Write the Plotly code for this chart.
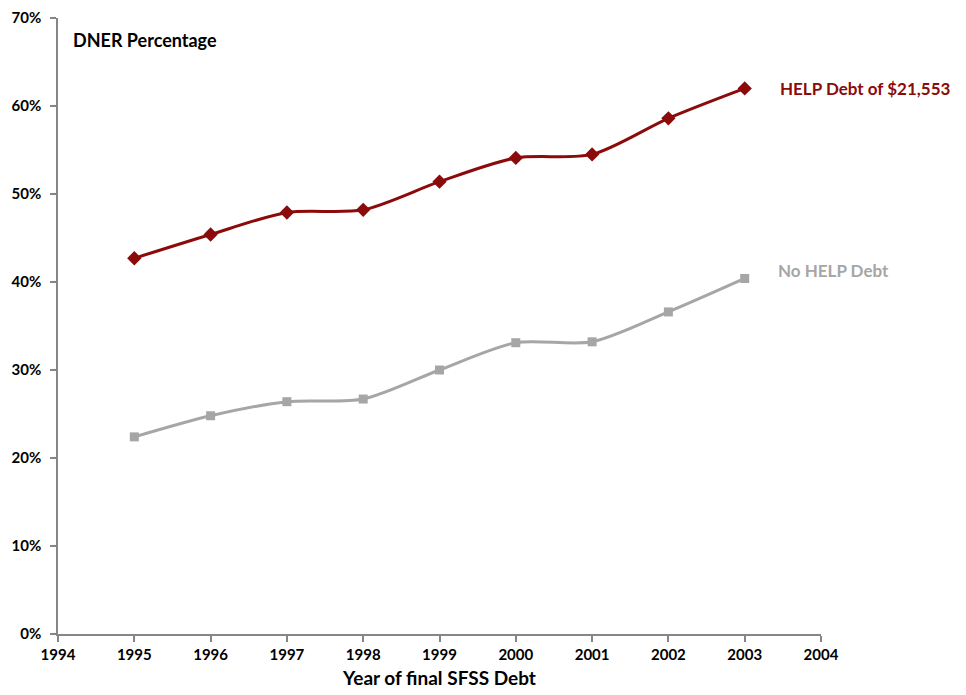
import plotly.graph_objects as go

years = [1995, 1996, 1997, 1998, 1999, 2000, 2001, 2002, 2003]
help_debt = [42.7, 45.4, 47.9, 48.2, 51.4, 54.1, 54.5, 58.6, 62.0]
no_help = [22.4, 24.8, 26.4, 26.7, 30.0, 33.1, 33.2, 36.6, 40.4]
x_ticks = list(range(1994, 2005))
y_ticks = list(range(0, 71, 10))
y_tick_labels = [f"{v}%" for v in y_ticks]

RED = "#8B0A0A"
GRAY = "#A6A6A6"
FONT = "Lato"

fig = go.Figure()
fig.add_trace(go.Scatter(x=years, y=no_help, mode="lines+markers", line=dict(color=GRAY, width=3, shape="spline", smoothing=0.8),
                         marker=dict(symbol="square", size=9, color=GRAY), showlegend=False))
fig.add_trace(go.Scatter(x=years, y=help_debt, mode="lines+markers", line=dict(color=RED, width=3, shape="spline", smoothing=0.8),
                         marker=dict(symbol="diamond", size=11, color=RED), showlegend=False))

fig.add_annotation(x=years[-1], y=help_debt[-1], text="<b>HELP Debt of $21,553</b>", showarrow=False,
                   xanchor="left", yanchor="middle", xshift=33, font=dict(family=FONT, size=17, color=RED))
fig.add_annotation(x=years[-1], y=no_help[-1], text="<b>No HELP Debt</b>", showarrow=False,
                   xanchor="left", yanchor="middle", xshift=31, yshift=8, font=dict(family=FONT, size=17, color=GRAY))
fig.add_annotation(x=0.017, y=0.964, xref="paper", yref="paper", text="<b>DNER Percentage</b>", showarrow=False,
                   xanchor="left", yanchor="middle", font=dict(family=FONT, size=18, color="black"))

fig.update_layout(
    width=966, height=695,
    margin=dict(l=50, r=153, t=10, b=69),
    plot_bgcolor="white", paper_bgcolor="white",
    font=dict(family=FONT, size=15, color="black"),
)
fig.update_xaxes(range=[1994, 2004], tickvals=x_ticks, ticktext=[f"<b>{v}</b>" for v in x_ticks],
                 automargin=False,
                 showgrid=False, zeroline=False, showline=True, linecolor="#868686", linewidth=1.5,
                 ticks="outside", ticklen=6, tickcolor="#868686", tickwidth=1.5,
                 title=dict(text="<b>Year of final SFSS Debt</b>", font=dict(family=FONT, size=19), standoff=10))
fig.update_yaxes(range=[0, 70], tickvals=y_ticks, ticktext=[f"<b>{t}</b>" for t in y_tick_labels],
                 automargin=False, ticklabelstandoff=6,
                 showgrid=False, zeroline=False, showline=True, linecolor="#868686", linewidth=1.5,
                 ticks="outside", ticklen=6, tickcolor="#868686", tickwidth=1.5)

fig.write_html("out.html")
